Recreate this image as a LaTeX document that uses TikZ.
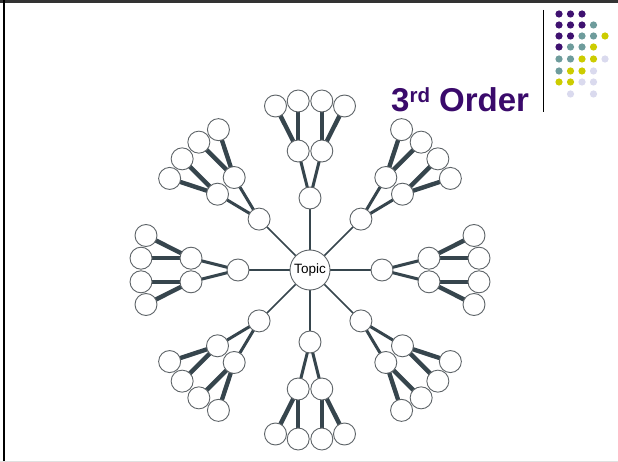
\documentclass[tikz,border=0pt]{standalone}
\usepackage{fontspec}
\setmainfont{Liberation Sans}
\usetikzlibrary{backgrounds}
\definecolor{linkgray}{HTML}{36454D}
\definecolor{rimgray}{HTML}{5E6468}
\definecolor{titlepurple}{HTML}{3A0A6B}
\definecolor{dotP}{HTML}{3F1170}
\definecolor{dotT}{HTML}{6E9C9C}
\definecolor{dotY}{HTML}{CCCC00}
\definecolor{dotL}{HTML}{DADAEE}

\begin{document}
\begin{tikzpicture}[x=1pt,y=-1pt,
  bubble/.style={circle, draw=rimgray, fill=white, line width=0.9pt, minimum size=22pt, inner sep=0pt},
  topicbubble/.style={bubble, minimum size=40pt, font=\fontsize{13.5}{15}\selectfont},
  stem/.style={draw=linkgray, line width=1.6pt},
  limb/.style={draw=linkgray, line width=3pt},
  twig/.style={draw=linkgray, line width=4.4pt}]
\useasboundingbox (0,0) rectangle (618,462);

% slide frame
\fill[black!80] (0,0) rectangle (618,2.7);
\fill[black] (2.7,0) rectangle (5.3,462);
\draw[black!12] (0,461.5) -- (618,461.5);

% title and corner dots
\node[anchor=base west, inner sep=0pt, text=titlepurple, font=\bfseries\fontsize{33}{36}\selectfont] (title) at (391,112)
  {3\raisebox{9.5pt}{\fontsize{20.5}{20}\selectfont rd} Order};
\draw[black, line width=0.8pt] (543,10) -- (543,112);
\foreach \y/\row in {14/{dotP,dotP,dotP}, 25/{dotP,dotP,dotP,dotT}, 36/{dotP,dotP,dotT,dotT,dotY},
    47/{dotP,dotT,dotT,dotY}, 59/{dotT,dotT,dotY,dotY,dotL}, 71/{dotT,dotY,dotY,dotL}, 82/{dotY,dotY,dotL,dotL}}
  \foreach \c [count=\k from 0] in \row
    \fill[\c] (559+11.5*\k,\y) circle (3.6pt);
\fill[dotL] (570.5,94) circle (3.6pt) (593.5,94) circle (3.6pt);

% topic and eight branches
\node[topicbubble] (topic) at (310,270) {Topic};
\foreach \a [count=\i] in {0,45,...,315} {
  \begin{scope}[shift={(310,270)}, rotate=\a]
    \node[bubble] (f\i) at (72,0) {};
    \node[bubble] (sa\i) at (119,-11.8) {};
    \node[bubble] (sb\i) at (119,11.8) {};
    \node[bubble] (ta\i) at (164,-34.5) {};
    \node[bubble] (tb\i) at (169,-11.8) {};
    \node[bubble] (tc\i) at (169,11.8) {};
    \node[bubble] (td\i) at (164,34.5) {};
  \end{scope}
}
\begin{scope}[on background layer]
  \fill[white] (0,0) rectangle (618,462);
  \foreach \i in {1,...,8} {
    \draw[stem] (topic.center) -- (f\i.center);
    \draw[limb] (f\i.center) -- (sa\i.center);
    \draw[limb] (f\i.center) -- (sb\i.center);
    \draw[twig] (sa\i.center) -- (ta\i.center);
    \draw[twig] (sa\i.center) -- (tb\i.center);
    \draw[twig] (sb\i.center) -- (tc\i.center);
    \draw[twig] (sb\i.center) -- (td\i.center);
  }
\end{scope}
\end{tikzpicture}
\end{document}
